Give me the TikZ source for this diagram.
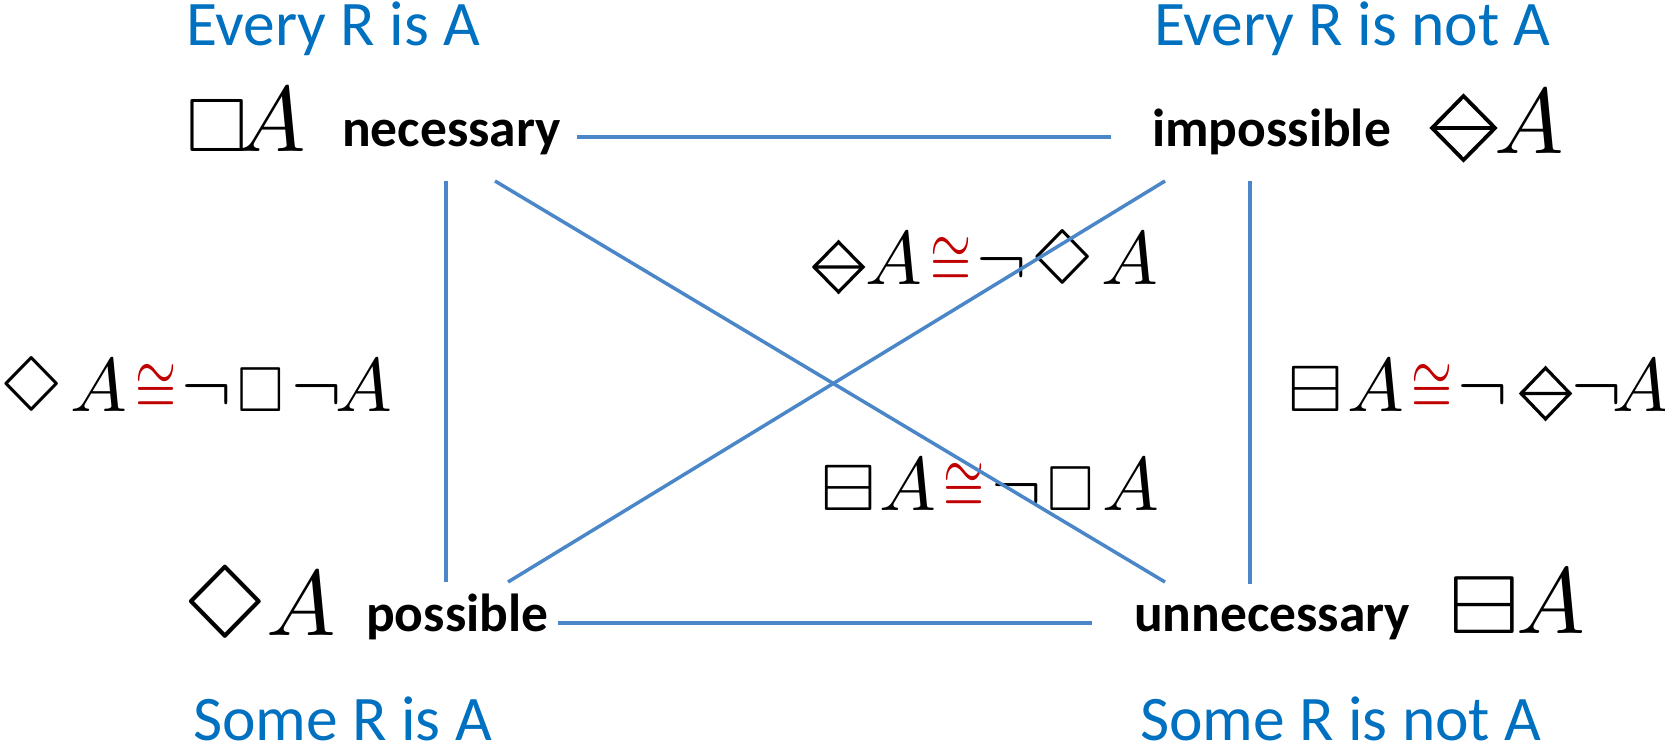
\documentclass[tikz,border=0pt]{standalone}
\usepackage{fontspec}
\setmainfont{Carlito}
\usepackage{latexsym}
\usepackage{amssymb}
\usepackage{graphicx}
\definecolor{titleblue}{RGB}{0,112,192}
\definecolor{lineblue}{RGB}{74,134,200}
\definecolor{congred}{RGB}{192,0,0}
\newcommand{\G}[3]{\scalebox{#1}[#2]{$#3$}}
% diamond with a horizontal bar: centre x, centre y, width, height, stroke
\newcommand{\dmd}[5]{\draw[symline,line width=#5]
  (#1-#3/2,#2) -- (#1,#2-#4/2) -- (#1+#3/2,#2) -- (#1,#2+#4/2) -- cycle
  (#1-#3/2,#2) -- (#1+#3/2,#2);}
\begin{document}
\begin{tikzpicture}[x=1bp,y=-1bp,
  title/.style={anchor=base west,inner sep=0pt,text=titleblue,font=\fontsize{63.5bp}{72bp}\selectfont},
  lab/.style={anchor=base west,inner sep=0pt,font=\fontsize{53.5bp}{64bp}\selectfont\bfseries},
  g/.style={anchor=base,inner sep=0pt},
  rc/.style={g,text=congred},
  symline/.style={draw=black,line join=miter},
  conn/.style={draw=lineblue,line width=3.5bp}]
\useasboundingbox (0,0) rectangle (1665,745);
% titles
\node[title] (t1) at (186,46) {Every R is A};
\node[title] (t2) at (1154,46) {Every R is not A};
\node[title] (t3) at (193,740) {Some R is A};
\node[title] (t4) at (1140,740) {Some R is not A};
% labels
\node[lab] (nec) at (342,146) {necessary};
\node[lab] (imp) at (1152,146) {impossible};
\node[lab] (pos) at (366,631) {possible};
\node[lab] (unn) at (1134,631) {unnecessary};
% big symbols
\node[g] (bx1) at (217,151) {\G{7.9}{7.6}{\square}};
\node[g] (ba1) at (271.5,151) {\G{9.3}{9.3}{A}};
\dmd{1463.5}{128}{63}{64}{3.8bp}
\node[g] (ba2) at (1529,153) {\G{9.3}{9.3}{A}};
\node[g] (bd3) at (225.5,638) {\G{10.6}{10.8}{\Diamond}};
\node[g] (ba3) at (301,635) {\G{9.3}{9.3}{A}};
\node[g] (bb4) at (1484.5,633) {\G{9.0}{8.3}{\boxminus}};
\node[g] (ba4) at (1551,633) {\G{9.2}{9.4}{A}};
% left formula
\node[g] (l1) at (32,411) {\G{7.9}{8.1}{\Diamond}};
\node[g] (l2) at (99,411) {\G{7.6}{7.6}{A}};
\node[rc] (l3) at (156,411) {\G{5.3}{7.4}{\cong}};
\node[g] (l4) at (206.5,411) {\G{7.6}{7.6}{\neg}};
\node[g] (l5) at (260.5,411) {\G{6.0}{6.4}{\square}};
\node[g] (l6) at (316.5,411) {\G{7.6}{7.6}{\neg}};
\node[g] (l7) at (364,411) {\G{7.6}{7.6}{A}};
% right formula
\node[g] (r1) at (1316,411) {\G{7.0}{6.6}{\boxminus}};
\node[g] (r2) at (1376,411) {\G{7.6}{7.6}{A}};
\node[rc] (r3) at (1432,411) {\G{5.3}{7.4}{\cong}};
\node[g] (r4) at (1483,411) {\G{7.6}{7.6}{\neg}};
\dmd{1545.5}{393.5}{49}{51}{3.2bp}
\node[g] (r6) at (1597,411) {\G{7.6}{7.6}{\neg}};
\node[g] (r7) at (1641,411) {\G{7.6}{7.6}{A}};
% centre top formula
\dmd{838.5}{267}{49}{50}{3.2bp}
\node[g] (c2) at (894,284) {\G{7.6}{7.6}{A}};
\node[rc] (c3) at (951,284) {\G{5.3}{7.4}{\cong}};
\node[g] (c4) at (1002,284) {\G{7.6}{7.6}{\neg}};
\node[g] (c5) at (1063,284) {\G{7.9}{8.1}{\Diamond}};
\node[g] (c6) at (1130,284) {\G{7.6}{7.6}{A}};
% centre bottom formula
\node[g] (d1) at (848.5,510) {\G{7.0}{6.6}{\boxminus}};
\node[g] (d2) at (908,510) {\G{7.6}{7.6}{A}};
\node[rc] (d3) at (964.5,510) {\G{5.3}{7.4}{\cong}};
\node[g] (d4) at (1016.5,510) {\G{7.6}{7.6}{\neg}};
\node[g] (d5) at (1070.5,510) {\G{6.0}{6.4}{\square}};
\node[g] (d6) at (1131,510) {\G{7.6}{7.6}{A}};
% connectors
\coordinate (nE) at (577,137); \coordinate (iW) at (1111,137);
\coordinate (pE) at (558,623); \coordinate (uW) at (1092,623);
\coordinate (nS) at (446,181); \coordinate (pN) at (446,582);
\coordinate (iS) at (1250,181); \coordinate (uN) at (1250,584);
\coordinate (nSE) at (495,181); \coordinate (uNW) at (1165,582);
\coordinate (pNE) at (508,582); \coordinate (iSW) at (1165,181);
\draw[conn] (nE) -- (iW);
\draw[conn] (pE) -- (uW);
\draw[conn] (nS) -- (pN);
\draw[conn] (iS) -- (uN);
\draw[conn] (nSE) -- (uNW);
\draw[conn] (pNE) -- (iSW);
\end{tikzpicture}
\end{document}
